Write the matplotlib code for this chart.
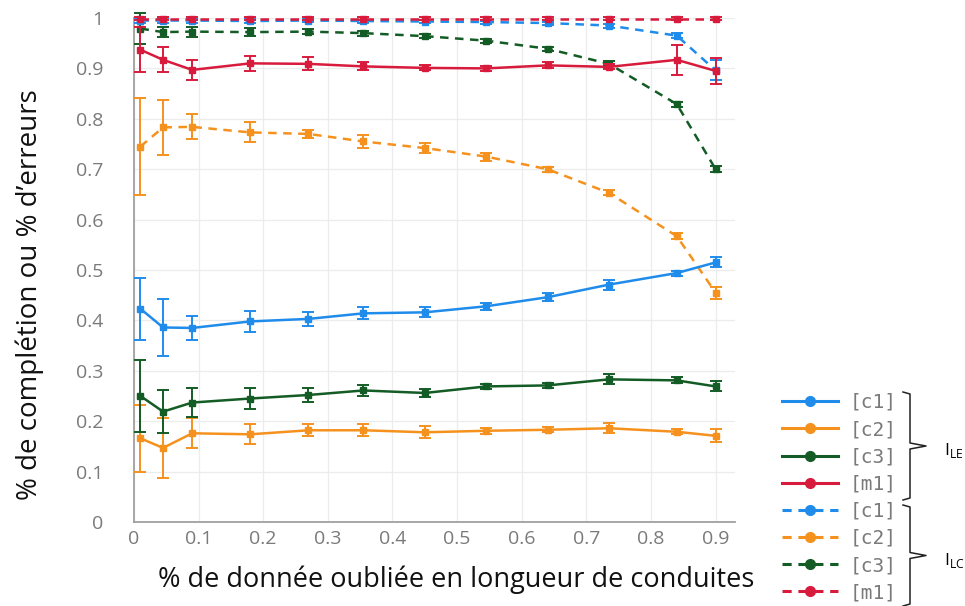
import matplotlib
matplotlib.use("Agg")
import matplotlib.pyplot as plt
from matplotlib.lines import Line2D

# data
x_vals = [0.01, 0.045, 0.09, 0.18, 0.27, 0.355, 0.45, 0.545, 0.64, 0.735, 0.84, 0.9]

# I_LE (solid)
le_c1 = [0.423, 0.386, 0.385, 0.398, 0.403, 0.414, 0.416, 0.428, 0.446, 0.471, 0.494, 0.515]
le_c1_err = [0.062, 0.057, 0.024, 0.021, 0.014, 0.012, 0.010, 0.007, 0.008, 0.010, 0.005, 0.010]
le_c2 = [0.166, 0.147, 0.176, 0.174, 0.182, 0.182, 0.178, 0.181, 0.183, 0.186, 0.179, 0.171]
le_c2_err = [0.067, 0.059, 0.030, 0.020, 0.012, 0.012, 0.012, 0.006, 0.005, 0.010, 0.005, 0.013]
le_c3 = [0.250, 0.219, 0.237, 0.245, 0.252, 0.261, 0.256, 0.269, 0.271, 0.283, 0.281, 0.269]
le_c3_err = [0.071, 0.043, 0.029, 0.020, 0.013, 0.011, 0.008, 0.005, 0.005, 0.010, 0.006, 0.010]
le_m1 = [0.937, 0.917, 0.897, 0.910, 0.909, 0.904, 0.901, 0.900, 0.906, 0.903, 0.917, 0.895]
le_m1_err = [0.045, 0.025, 0.020, 0.015, 0.013, 0.008, 0.005, 0.005, 0.006, 0.005, 0.030, 0.025]

# I_LC (dashed)
lc_c1 = [0.995, 0.995, 0.995, 0.994, 0.995, 0.994, 0.993, 0.992, 0.990, 0.985, 0.965, 0.896]
lc_c1_err = [0.004, 0.004, 0.004, 0.004, 0.003, 0.003, 0.003, 0.003, 0.003, 0.004, 0.005, 0.020]
lc_c2 = [0.745, 0.783, 0.784, 0.773, 0.770, 0.755, 0.742, 0.725, 0.700, 0.653, 0.567, 0.455]
lc_c2_err = [0.097, 0.055, 0.025, 0.020, 0.008, 0.013, 0.010, 0.008, 0.005, 0.005, 0.006, 0.012]
lc_c3 = [0.979, 0.972, 0.973, 0.972, 0.973, 0.970, 0.964, 0.955, 0.939, 0.909, 0.829, 0.700]
lc_c3_err = [0.030, 0.010, 0.010, 0.008, 0.005, 0.005, 0.004, 0.004, 0.004, 0.005, 0.005, 0.006]
lc_m1 = [0.999, 0.999, 0.999, 0.999, 0.999, 0.999, 0.999, 0.999, 0.999, 0.999, 0.999, 0.999]
lc_m1_err = [0.002, 0.002, 0.002, 0.002, 0.002, 0.002, 0.002, 0.002, 0.002, 0.002, 0.002, 0.002]

labels = ["[c1]", "[c2]", "[c3]", "[m1]"]
colors = ["#1f8ceb", "#f5921e", "#145c25", "#d81b3c"]

x_ticks = [0, 0.1, 0.2, 0.3, 0.4, 0.5, 0.6, 0.7, 0.8, 0.9]
x_ticklabels = ["0", "0.1", "0.2", "0.3", "0.4", "0.5", "0.6", "0.7", "0.8", "0.9"]
y_ticks = [0, 0.1, 0.2, 0.3, 0.4, 0.5, 0.6, 0.7, 0.8, 0.9, 1]
y_ticklabels = ["0", "0.1", "0.2", "0.3", "0.4", "0.5", "0.6", "0.7", "0.8", "0.9", "1"]

DASH = (0, (3.4, 2.6))

fig = plt.figure(figsize=(9.65, 6.06), dpi=100)
ax = fig.add_axes([134 / 965, 1 - 522 / 606, 601 / 965, 504 / 606])

le_series = [(le_c1, le_c1_err), (le_c2, le_c2_err), (le_c3, le_c3_err), (le_m1, le_m1_err)]
lc_series = [(lc_c1, lc_c1_err), (lc_c2, lc_c2_err), (lc_c3, lc_c3_err), (lc_m1, lc_m1_err)]

for (vals, err), col in zip(lc_series, colors):
    ax.errorbar(x_vals, vals, yerr=err, color=col, ls=DASH, lw=1.8,
                marker="s", ms=4.5, capsize=4, elinewidth=1.4,
                capthick=1.4, clip_on=False, zorder=3)
for (vals, err), col in zip(le_series, colors):
    ax.errorbar(x_vals, vals, yerr=err, color=col, ls="-", lw=1.8,
                marker="s", ms=4.5, capsize=4, elinewidth=1.4,
                capthick=1.4, clip_on=False, zorder=4)

ax.set_xlim(0, 0.93)
ax.set_ylim(0, 1)
ax.set_xticks(x_ticks)
ax.set_xticklabels(x_ticklabels)
ax.set_yticks(y_ticks)
ax.set_yticklabels(y_ticklabels)
ax.tick_params(axis="both", length=0, labelsize=14, labelcolor="#7a7a7a")
ax.tick_params(axis="y", pad=22)
ax.tick_params(axis="x", pad=6)
for lab in ax.get_xticklabels() + ax.get_yticklabels():
    lab.set_fontfamily("Open Sans")
ax.grid(True, color="#ececec", lw=0.9)
ax.set_axisbelow(True)
for side in ["top", "right"]:
    ax.spines[side].set_visible(False)
for side in ["left", "bottom"]:
    ax.spines[side].set_color("#a0a0a0")
    ax.spines[side].set_linewidth(1.3)

fig.text(30 / 965, 1 - 295 / 606, "% de complétion ou % d\u2019erreurs", rotation=90,
         ha="center", va="center", fontsize=20, family="Open Sans", color="#111111")
fig.text(456 / 965, 1 - 580 / 606, "% de donnée oubliée en longueur de conduites",
         ha="center", va="center", fontsize=19.5, family="Open Sans", color="#111111")

# legend
handles = []
for col in colors:
    handles.append(Line2D([], [], color=col, ls="-", lw=2.2, marker="o", ms=7))
for col in colors:
    handles.append(Line2D([], [], color=col, ls=(0, (3.0, 2.2)), lw=2.2, marker="o", ms=7))
leg = fig.legend(handles, labels + labels, loc="upper left",
                 bbox_to_anchor=(782 / 965, 1 - 393 / 606), frameon=False,
                 handlelength=2.9, handletextpad=0.6, labelspacing=0.42,
                 borderaxespad=0, borderpad=0,
                 prop={"family": "DejaVu Sans Mono", "size": 14})
for t in leg.get_texts():
    t.set_color("#7a7a7a")


def brace(y_top, y_bot, x_left, x_right, x_tip):
    y_mid = (y_top + y_bot) / 2
    pts_x = [x_left, x_right, x_right, x_tip, x_right, x_right, x_left]
    pts_y = [y_top, y_top + 2, y_mid - 3, y_mid, y_mid + 3, y_bot - 2, y_bot]
    fig.add_artist(Line2D([p / 965 for p in pts_x], [1 - p / 606 for p in pts_y],
                          color="#222222", lw=1.1))


brace(392, 500, 903, 910, 926)
brace(505, 606, 903, 910, 926)
fig.text(944 / 965, 1 - 451 / 606, r"I$_{\mathregular{LE}}$", fontsize=12.5,
         family="Open Sans", va="center", ha="left")
fig.text(944 / 965, 1 - 561 / 606, r"I$_{\mathregular{LC}}$", fontsize=12.5,
         family="Open Sans", va="center", ha="left")

fig.savefig("out.png", dpi=100)
